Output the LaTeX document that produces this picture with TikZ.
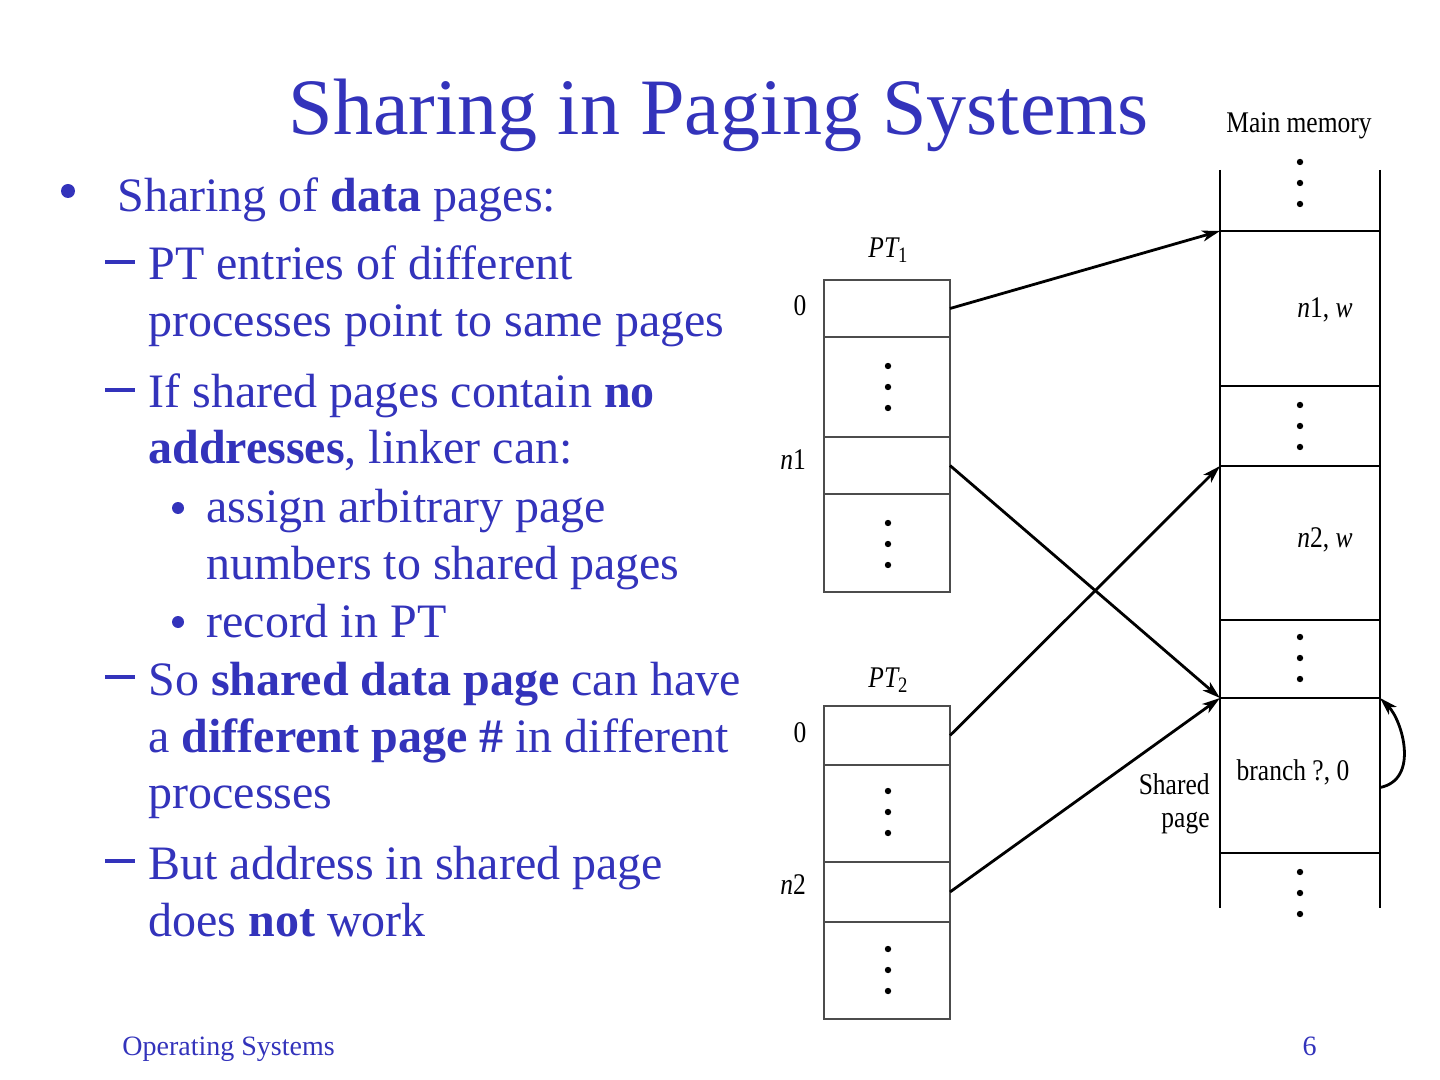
\documentclass[tikz,border=0pt]{standalone}
\usepackage{fontspec}
\setmainfont{Liberation Serif}
\newfontfamily\diagfont[FakeStretch=0.85]{Liberation Serif}
\usetikzlibrary{arrows.meta}
\definecolor{slideblue}{RGB}{51,51,187}
\newcommand\threedots[2]{\foreach \d in {-21,0,21}{\fill (#1,#2+\d) circle[radius=3.2];}}
\newcommand\slidedash{\rule[8pt]{15pt}{2pt}}
\begin{document}
\begin{tikzpicture}[x=0.5pt,y=-0.5pt,
  body/.style={anchor=base west, inner sep=0, text=slideblue, font=\fontsize{24}{28}\selectfont},
  dotbullet/.style={circle, fill=slideblue, inner sep=0, minimum size=6pt},
  dlabel/.style={inner sep=0, font=\diagfont\fontsize{15}{16.5}\selectfont},
  cell/.style={draw=black!70, line width=1pt, minimum width=63pt, minimum height=#1, inner sep=0, anchor=north west, outer sep=0},
  mem/.style={minimum width=80pt, minimum height=#1, inner sep=0, anchor=north west, outer sep=0},
  memline/.style={line width=1pt, black},
  arr/.style={-{Stealth[length=9pt,width=5.5pt,inset=2.5pt]}, line width=1.4pt},
]
\useasboundingbox (0,0) rectangle (1440,1080);

% Title
\node[anchor=base, inner sep=0, text=slideblue, font=\fontsize{40}{48}\selectfont] (title) at (719,135) {Sharing in Paging Systems};

% Bullets
\node[dotbullet, minimum size=7pt] (b1) at (68,191) {};
\node[body] (t1) at (117,212) {Sharing of \textbf{data} pages:};
\node[body] (d1) at (105,280) {\slidedash};
\node[body] (t2) at (148,280) {PT entries of different};
\node[body] (t3) at (148,337) {processes point to same pages};
\node[body] (d2) at (105,408) {\slidedash};
\node[body] (t4) at (148,408) {If shared pages contain \textbf{no}};
\node[body] (t5) at (148,464) {\textbf{addresses}, linker can:};
\node[dotbullet] (b2) at (178,508) {};
\node[body] (t6) at (206,522) {assign arbitrary page};
\node[body] (t7) at (206,579) {numbers to shared pages};
\node[dotbullet] (b3) at (178,622) {};
\node[body] (t8) at (206,637) {record in PT};
\node[body] (d3) at (105,695) {\slidedash};
\node[body] (t9) at (148,695) {So \textbf{shared data page} can have};
\node[body] (t10) at (148,752) {a \textbf{different page \#} in different};
\node[body] (t11) at (148,808) {processes};
\node[body] (d4) at (105,879) {\slidedash};
\node[body] (t12) at (148,879) {But address in shared page};
\node[body] (t13) at (148,936) {does \textbf{not} work};

% Footer
\node[anchor=base west, inner sep=0, text=slideblue, font=\fontsize{14}{16}\selectfont] (foot) at (122,1055) {Operating Systems};
\node[anchor=base east, inner sep=0, text=slideblue, font=\fontsize{14}{16}\selectfont] (num) at (1317,1055) {6};

% PT1
\node[dlabel] (pt1) at (888,250) {\itshape PT\upshape\raisebox{-0.35ex}{\fontsize{11}{12}\selectfont 1}};
\node[cell=28.5pt] (p1a) at (824,280) {};
\node[cell=50pt] (p1b) at (824,337) {};
\node[cell=28.5pt] (p1c) at (824,437) {};
\node[cell=49pt] (p1d) at (824,494) {};
\node[dlabel] (l10) at (800,306) {0};
\node[dlabel] (l1n) at (793,460) {\itshape n\upshape 1};
\threedots{888}{387}
\threedots{888}{544}

% PT2
\node[dlabel] (pt2) at (888,680) {\itshape PT\upshape\raisebox{-0.35ex}{\fontsize{11}{12}\selectfont 2}};
\node[cell=29.5pt] (p2a) at (824,706) {};
\node[cell=48.5pt] (p2b) at (824,765) {};
\node[cell=30pt] (p2c) at (824,862) {};
\node[cell=48.5pt] (p2d) at (824,922) {};
\node[dlabel] (l20) at (800,733) {0};
\node[dlabel] (l2n) at (793,885) {\itshape n\upshape 2};
\threedots{888}{812}
\threedots{888}{970}

% Main memory
\node[dlabel] (mmlabel) at (1299,126) {Main memory};
\node[mem=30.5pt] (m0) at (1220,170) {};
\node[mem=77.5pt] (m1) at (1220,231) {};
\node[mem=40pt] (m2) at (1220,386) {};
\node[mem=77pt] (m3) at (1220,466) {};
\node[mem=39pt] (m4) at (1220,620) {};
\node[mem=77.5pt] (m5) at (1220,698) {};
\node[mem=27.5pt] (m6) at (1220,853) {};
\draw[memline] (m0.north west) -- (m6.south west);
\draw[memline] (m0.north east) -- (m6.south east);
\foreach \m in {m0,m1,m2,m3,m4,m5}{\draw[memline] (\m.south west) -- (\m.south east);}
\threedots{1300}{183}
\threedots{1300}{426}
\threedots{1300}{658}
\threedots{1300}{893}
\node[dlabel] (n1w) at (1325,310) {\itshape n\upshape 1, \itshape w};
\node[dlabel] (n2w) at (1325,540) {\itshape n\upshape 2, \itshape w};
\node[dlabel] (br) at (1293,772) {branch ?, 0};
\node[dlabel, align=right, anchor=east] (shared) at (1210,804) {Shared\\page};

% Arrows
\draw[arr] (p1a.east) -- (m1.north west);
\draw[arr] (p1c.east) -- (m5.north west);
\draw[arr] (p2a.east) -- (m3.north west);
\draw[arr] (p2c.east) -- (m5.north west);
\draw[arr] ([yshift=-6pt]m5.east) .. controls +(40,-8) and +(22,22) .. (m5.north east);
\end{tikzpicture}
\end{document}
